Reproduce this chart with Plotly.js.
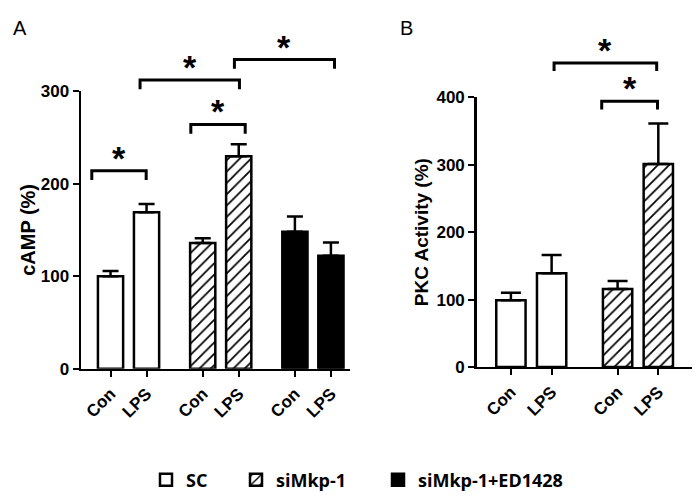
<!DOCTYPE html>
<html><head><meta charset="utf-8">
<script src="https://cdn.plot.ly/plotly-3.0.1.min.js"></script>
<style>html,body{margin:0;padding:0;background:#fff}</style>
</head><body><div id="chart" style="width:697px;height:499px"></div>
<script>
// ---------------- data ----------------
const conditions = ['Con', 'LPS'];
const treatments = ['SC', 'siMkp-1', 'siMkp-1+ED1428'];

// Panel A: cAMP (%)
const cAMP_SC = [100, 169];
const cAMP_SC_err = [5.5, 9];
const cAMP_siMkp = [136, 229.5];
const cAMP_siMkp_err = [5, 13];
const cAMP_ED = [148, 122];
const cAMP_ED_err = [16.5, 14.5];

// Panel B: PKC Activity (%)
const pkc_SC = [99, 139];
const pkc_SC_err = [11, 27];
const pkc_siMkp = [115.5, 301];
const pkc_siMkp_err = [12, 60];

const yTicksA = [0, 100, 200, 300];
const yTicksB = [0, 100, 200, 300, 400];

// significance brackets (axis units)
const sigA_x0 = [-0.52, 2.23, 0.82, 3.44];
const sigA_x1 = [0.99, 3.74, 3.58, 6.22];
const sigA_y = [214, 264, 312, 334];
const sigB_x0 = [1.06, 2.23];
const sigB_x1 = [3.58, 3.60];
const sigB_y = [451, 394];
const sigLabel = '*';

// ---------------- layout helpers ----------------
const W = 697, H = 499;
const py = p => 1 - p / H;
const px = p => p / W;
const GROUP_A = 2.56, GROUP_B = 2.62;
const posA = g => conditions.map((c, i) => g * GROUP_A + i);
const posB = g => conditions.map((c, i) => g * GROUP_B + i);

const A = {x0: 81, x1: 350, zero: 372.5, topVal: 300, topPx: 92, ovTop: 18, range: [-0.82, 6.65]};
const B = {x0: 476.7, x1: 691.7, zero: 370.7, topVal: 400, topPx: 98.3, ovTop: 18, range: [-0.84, 4.44]};
const ovRange = P => P.topVal * (P.zero - P.ovTop) / (P.zero - P.topPx);

const FAM = 'Liberation Sans, Arial, sans-serif';
const tickFont = {family: FAM, size: 17, color: '#000', weight: 'bold'};
const titleFontA = {family: FAM, size: 20, color: '#000', weight: 'bold'};
const titleFontB = {family: FAM, size: 19, color: '#000', weight: 'bold'};

const errStyle = (arr, w) => ({type: 'data', array: arr, arrayminus: arr.map(() => 0), symmetric: false,
  color: '#000', thickness: 2.5, width: w});
const lineStyle = {color: '#000', width: 2.5};
const styles = [
  {color: '#fff', line: lineStyle},
  {color: '#fff', line: lineStyle, pattern: {shape: '/', fgcolor: '#000', bgcolor: '#fff', size: 8, solidity: 0.22}},
  {color: '#000', line: lineStyle}
];
const legendIds = ['legend', 'legend2', 'legend3'];

const traces = [];
function addBar(xa, ya, x, y, err, idx, showlegend, bw, cap) {
  traces.push({type: 'bar', x: x, y: y, xaxis: xa, yaxis: ya, width: bw, name: treatments[idx],
    legend: legendIds[idx], legendgroup: treatments[idx], showlegend: showlegend, marker: styles[idx],
    error_y: errStyle(err, cap), hoverinfo: 'skip'});
}
addBar('x', 'y', posA(0), cAMP_SC, cAMP_SC_err, 0, true, 0.7, 8);
addBar('x', 'y', posA(1), cAMP_siMkp, cAMP_siMkp_err, 1, true, 0.7, 8);
addBar('x', 'y', posA(2), cAMP_ED, cAMP_ED_err, 2, true, 0.7, 8);
addBar('x2', 'y2', posB(0), pkc_SC, pkc_SC_err, 0, false, 0.72, 10);
addBar('x2', 'y2', posB(1), pkc_siMkp, pkc_siMkp_err, 1, false, 0.72, 10);

const shapes = [], annotations = [];
function addBrackets(xr, yr, x0s, x1s, ys, drop) {
  x0s.forEach((x0, i) => {
    const x1 = x1s[i], y = ys[i];
    shapes.push({type: 'path', xref: xr, yref: yr,
      path: `M${x0},${y - drop} L${x0},${y} L${x1},${y} L${x1},${y - drop}`,
      line: {color: '#000', width: 3}});
    annotations.push({xref: xr, yref: yr, x: (x0 + x1) / 2, y: y, text: sigLabel, showarrow: false,
      yanchor: 'bottom', yshift: -8, font: {family: FAM, size: 34, color: '#000', weight: 'bold'}});
  });
}
addBrackets('x3', 'y3', sigA_x0, sigA_x1, sigA_y, 10);
addBrackets('x4', 'y4', sigB_x0, sigB_x1, sigB_y, 12);

annotations.push({xref: 'paper', yref: 'paper', x: px(11), y: py(15), text: 'A', showarrow: false,
  font: {family: FAM, size: 20, color: '#000'}});
annotations.push({xref: 'paper', yref: 'paper', x: px(406), y: py(15), text: 'B', showarrow: false,
  font: {family: FAM, size: 20, color: '#000'}});

function xAxis(P, tickvals, anchor) {
  return {domain: [px(P.x0), px(P.x1)], range: P.range, anchor: anchor,
    tickmode: 'array', tickvals: tickvals, ticktext: tickvals.map((v, i) => conditions[i % 2]),
    tickangle: -45, ticks: 'outside', ticklen: 6, tickwidth: 2, tickcolor: '#000',
    showline: true, linewidth: 2.5, linecolor: '#000', showgrid: false, zeroline: false,
    tickfont: tickFont, fixedrange: true};
}
function yAxis(P, tickvals, title, tfont, anchor, standoff) {
  return {domain: [py(P.zero), py(P.topPx)], range: [0, P.topVal], anchor: anchor,
    tickmode: 'array', tickvals: tickvals, ticks: 'outside', ticklen: 6, tickwidth: 2, tickcolor: '#000',
    showline: true, linewidth: 2.5, linecolor: '#000', showgrid: false, zeroline: false,
    tickfont: tickFont, title: {text: title, font: tfont, standoff: standoff}, fixedrange: true};
}
function ovX(P, anchor) { return {domain: [px(P.x0), px(P.x1)], range: P.range, visible: false, anchor: anchor, fixedrange: true}; }
function ovY(P, anchor) { return {domain: [py(P.zero), py(P.ovTop)], range: [0, ovRange(P)], visible: false, anchor: anchor, fixedrange: true}; }

const legendFont = {family: 'Open Sans, Liberation Sans, sans-serif', size: 18, color: '#000', weight: 'bold'};
const legendAt = xpx => ({orientation: 'h', x: px(xpx), xanchor: 'left', y: py(485), yanchor: 'middle',
  font: legendFont, bgcolor: 'rgba(0,0,0,0)', itemclick: false, itemdoubleclick: false});

const layout = {
  width: W, height: H, margin: {l: 0, r: 0, t: 0, b: 0},
  paper_bgcolor: '#fff', plot_bgcolor: 'rgba(0,0,0,0)',
  barmode: 'overlay',
  xaxis: xAxis(A, [...posA(0), ...posA(1), ...posA(2)], 'y'),
  yaxis: yAxis(A, yTicksA, 'cAMP (%)', titleFontA, 'x', 0),
  xaxis2: xAxis(B, [...posB(0), ...posB(1)], 'y2'),
  yaxis2: yAxis(B, yTicksB, 'PKC Activity (%)', titleFontB, 'x2', 3),
  xaxis3: ovX(A, 'y3'), yaxis3: ovY(A, 'x3'),
  xaxis4: ovX(B, 'y4'), yaxis4: ovY(B, 'x4'),
  showlegend: true,
  legend: legendAt(146), legend2: legendAt(236), legend3: legendAt(378),
  shapes: shapes, annotations: annotations
};

Plotly.newPlot('chart', traces, layout, {staticPlot: true, displayModeBar: false});
</script>
</body></html>
